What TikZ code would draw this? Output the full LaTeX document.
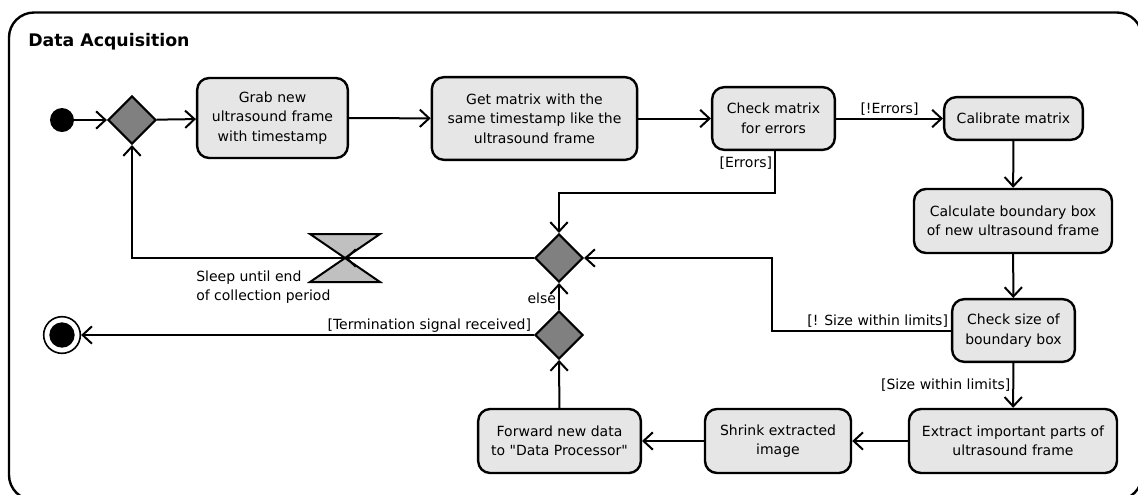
\documentclass[tikz,border=0pt]{standalone}
\usepackage{fontspec}
\setmainfont{DejaVu Sans}[Ligatures=TeXOff]
\usetikzlibrary{shapes.geometric,arrows.meta}
\definecolor{boxgray}{RGB}{230,230,230}
\definecolor{decgray}{RGB}{128,128,128}
\definecolor{sleepgray}{RGB}{192,192,192}
\tikzset{
  act/.style={draw, fill=boxgray, rounded corners=9pt, line width=1.8pt,
              align=center, inner sep=0pt, font=\fontsize{10.5}{14.6}\selectfont},
  decision/.style={draw, fill=decgray, diamond, aspect=1, line width=1.6pt,
                   inner sep=0pt, minimum width=36pt, minimum height=36pt},
  flow/.style={line width=1.5pt, -{Straight Barb[length=7pt,width=13pt]}},
  guard/.style={font=\fontsize{10.5}{14.2}\selectfont, inner sep=1.5pt},
}
\begin{document}
\begin{tikzpicture}[x=0.75pt, y=-0.75pt]
\useasboundingbox (0,0) rectangle (1138,494);

% enclosing activity frame
\draw[line width=1.8pt, rounded corners=18.75pt] (9,12.5) rectangle (1142,500);
\node[anchor=west, inner sep=0pt, font=\fontsize{13}{15}\selectfont\bfseries] (title) at (28,42) {Data Acquisition};

% start and end
\node[circle, fill=black, minimum size=18pt, inner sep=0pt] (start) at (62,120) {};
\node[circle, draw, line width=1.2pt, fill=white, minimum size=27.5pt, inner sep=0pt] (stop) at (62,335) {};
\node[circle, fill=black, minimum size=19pt, inner sep=0pt] (stopdot) at (62,335) {};

% decisions / merges
\node[decision] (d1) at (132,120) {};
\node[decision] (d2) at (559,258) {};
\node[decision] (d3) at (559,335) {};

% actions
\node[act, minimum width=113pt, minimum height=60pt] (grab) at (272.5,118)
  {Grab new\\ultrasound frame\\with timestamp};
\node[act, minimum width=154pt, minimum height=62pt] (get) at (534.5,118.5)
  {Get matrix with the\\same timestamp like the\\ultrasound frame};
\node[act, minimum width=92pt, minimum height=47pt] (check) at (773.5,118.5)
  {Check matrix\\for errors};
\node[act, minimum width=104pt, minimum height=32pt] (calib) at (1013.5,118.5)
  {Calibrate matrix};
\node[act, minimum width=148.5pt, minimum height=48pt] (calc) at (1013,221)
  {Calculate boundary box\\of new ultrasound frame};
\node[act, minimum width=92pt, minimum height=47pt] (size) at (1013.5,330.5)
  {Check size of\\boundary box};
\node[act, minimum width=156pt, minimum height=48pt] (extract) at (1013,441)
  {Extract important parts of\\ultrasound frame};
\node[act, minimum width=109.5pt, minimum height=48pt] (shrink) at (778,441)
  {Shrink extracted\\image};
\node[act, minimum width=122pt, minimum height=48pt] (forward) at (559.5,441)
  {Forward new data\\to "Data Processor"};

% time event (sleep)
\coordinate (sleep) at (345,258);
\filldraw[fill=sleepgray, line width=1.5pt, line join=miter]
  (310,234) -- (380,234) -- (sleep) -- cycle
  (sleep) -- (380,282) -- (310,282) -- cycle;
\node[anchor=north west, align=left, guard] (sleeplabel) at (194,269)
  {Sleep until end\\of collection period};

% corner points of routed connectors
\coordinate (errbend) at (775,193);
\coordinate (sizebend) at (772,330.5);
\coordinate (loopbend) at (132,258);

% connectors
\draw[flow] (start) -- (d1);
\draw[flow] (d1) -- (grab);
\draw[flow] (grab) -- (get);
\draw[flow] (get) -- (check);
\draw[flow] (check) -- node[guard, above] {[!Errors]} (calib);
\draw[flow] (check.south -| errbend) -- node[pos=0, guard, anchor=north east, yshift=-2pt] {[Errors]} (errbend) -| (d2.north);
\draw[flow] (calib) -- (calc);
\draw[flow] (calc) -- (size);
\draw[flow] (size.west) -- node[pos=0, guard, anchor=south east] {[! Size within limits]} (sizebend) |- (d2.east);
\draw[flow] (size) -- node[guard, left] {[Size within limits]} (extract);
\draw[flow] (extract) -- (shrink);
\draw[flow] (shrink) -- (forward);
\draw[flow] (forward) -- (d3);
\draw[flow] (d3) -- node[guard, left, pos=0.45] {else} (d2);
\draw[flow] (d3.west) -- node[pos=0, guard, anchor=south east] {[Termination signal received]} (stop);
\draw[flow] (d2.west) -- (sleep);
\draw[flow] (sleep) -- (loopbend) -- (d1.south);
\end{tikzpicture}
\end{document}
